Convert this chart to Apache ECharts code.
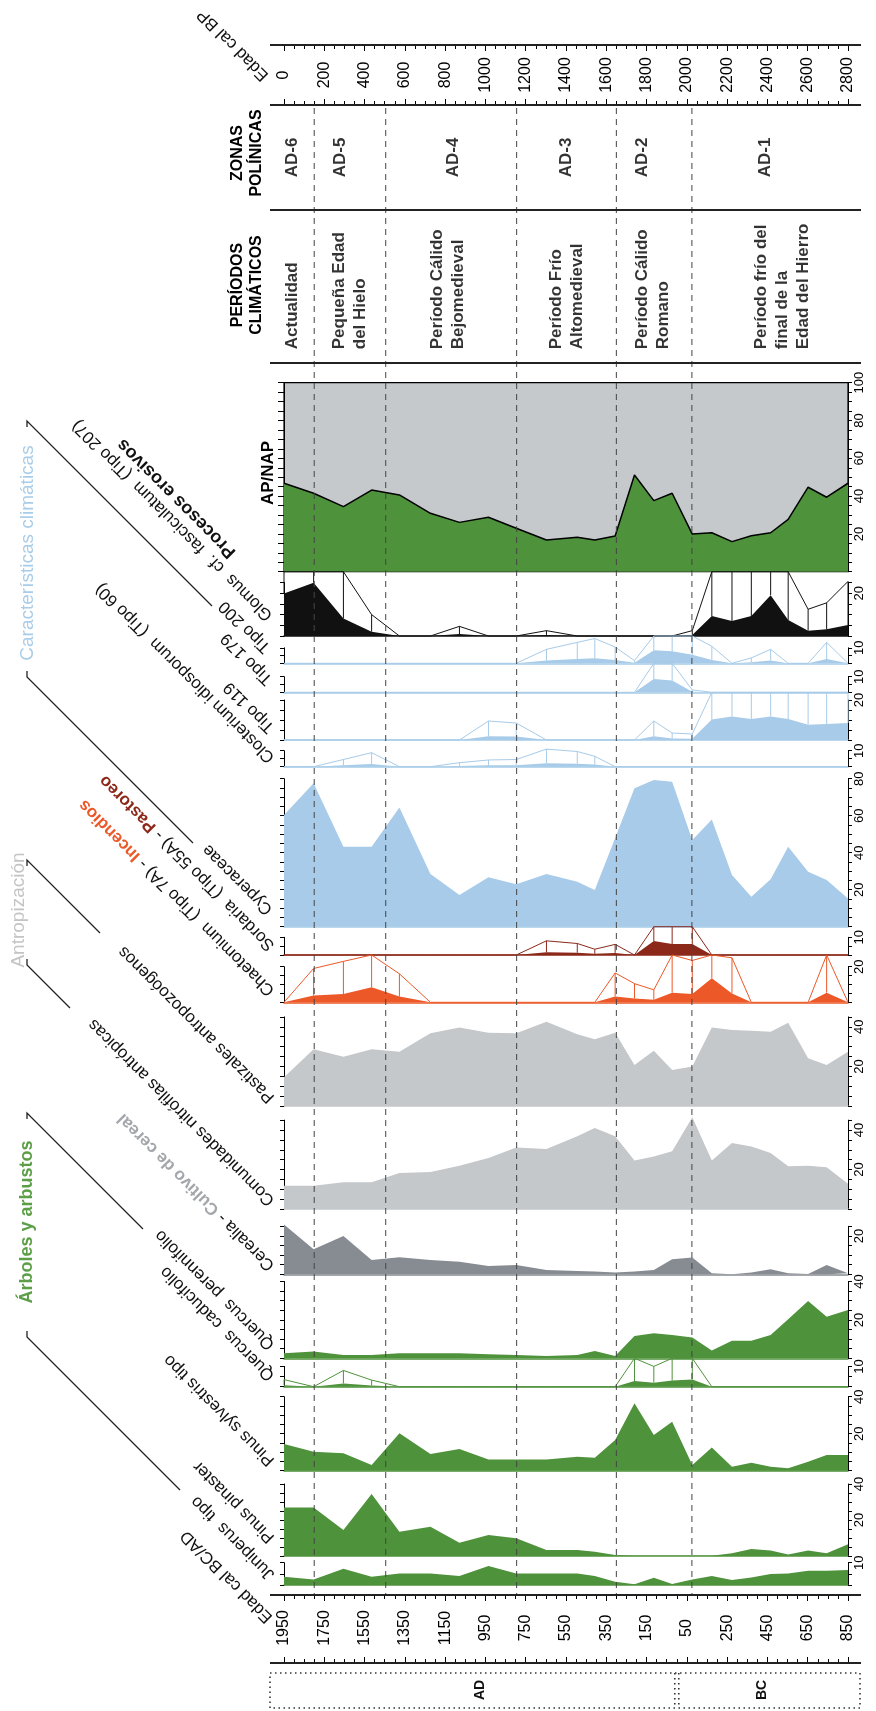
<!DOCTYPE html>
<html><head><meta charset="utf-8">
<script src="https://cdn.jsdelivr.net/npm/echarts@6/dist/echarts.min.js"></script>
<style>html,body{margin:0;padding:0;background:#fff}#c{width:876px;height:1711px}</style>
</head><body><div id="c"></div>
<script>
// ---------------- DATA ----------------
const ages = [0,147,295,435,573,727,871,1015,1153,1303,1456,1543,1644,1740,1836,1927,2027,2124,2224,2320,2416,2503,2602,2694,2800];
const apNap = [46.8,41.5,34.4,43.2,40.6,30.9,26.1,28.8,23.0,16.8,18.2,16.8,18.9,51.2,37.6,41.5,19.9,20.6,15.9,19.0,20.6,27.7,44.7,39.4,46.8];
const glomus = [19.9,24.9,8.2,2.0,0,0,0.9,0,0,0.5,0,0,0,0,0,0,0.5,9.3,7.0,9.3,19.1,7.5,2.5,3.1,5.1];
const tipo200 = [0,0,0,0,0,0,0,0,0,1.8,2.7,3.2,2.1,0.35,8.4,7.7,5.5,2.2,0,0.7,1.8,0,0,2.7,0];
const tipo179 = [0,0,0,0,0,0,0,0,0,0,0,0,0,0,8.5,7.5,0.3,0,0,0,0,0,0,0,0];
const tipo119 = [0,0,0,0,0,0,0,1.9,1.7,0,0,0,0,0,1.9,0.7,0.6,10.2,11.8,10.5,11.8,10.5,7.6,8.0,8.5];
const closterium = [0,0,0.9,1.75,0,0,0.5,0.84,0.9,2.2,1.9,1.3,0,0,0,0,0,0,0,0,0,0,0,0,0];
const cyperaceae = [60.4,77.5,43.2,43.2,64.5,28.5,17.1,26.7,22.9,28.5,24.3,19.8,48,74.8,79.3,78.4,46.8,58,27.9,16.2,25.6,43.2,29.7,25.2,15.3];
const sordaria = [0,0,0,0,0,0,0,0,0,1.6,1.3,0.65,1.2,0,7.9,6.2,6.2,0,0,0,0,0,0,0,0];
const chaetomium = [0,3.8,4.6,8.5,3.2,0,0,0,0,0,0,0,3.3,2.1,1.4,5.4,4.7,13.5,5.0,0,0,0,0,5.4,0];
const pastizales = [14.5,28.6,24.9,28.6,27.4,36.7,39.6,37.0,36.7,42.6,36.2,33.7,37.0,20.7,27.9,18.2,19.9,39.6,38.4,38.0,37.5,42.1,24.1,20.7,27.4];
const comunidades = [11.8,11.8,13.5,13.5,18.2,18.7,21.9,25.8,31.2,30.4,36.8,41.0,36.8,24.5,26.6,29.2,46.5,24.5,33.4,31.7,28.3,21.6,21.9,21.1,12.8];
const cerealia = [26,13,20,7.5,8.9,7.5,6.6,4.3,4.9,2.3,1.7,1.4,0.9,1.4,2.3,7.8,8.7,0.5,0,0.9,2.6,0.5,0.2,4.9,0.5];
const quercusPer = [2.6,3.5,1.7,1.7,2.6,2.6,2.6,2.1,1.7,1.2,1.7,3.8,1.2,11.6,13.0,12.2,10.8,4.0,9.2,9.2,12.2,20.3,29.9,21.7,25.2];
const quercusCad = [0.7,0,1.6,0.65,0,0,0,0,0,0,0,0,0,2.8,2.0,3.0,3.6,0,0,0,0,0,0,0,0];
const pinusSylv = [14.4,10.3,9.4,3.1,20.2,9.0,11.7,6.1,6.1,6.1,7.6,7.0,16.6,36.4,19.3,26.5,3.1,12.6,2.2,4.3,2.2,1.3,4.9,8.5,8.5];
const pinusPin = [26.9,26.9,14.4,34.4,13.5,16.3,7.4,11.7,9.8,3.3,3.3,2.4,0.6,0.2,0.2,0.2,0.2,0.2,1.5,3.9,3.0,0.9,3.0,1.5,6.5];
const juniperus = [3.7,2.5,7.3,3.7,5.2,5.2,4.0,8.5,5.2,5.2,5.2,4.0,1.5,0.3,3.3,0.4,2.5,4.0,2.2,3.4,4.9,5.2,6.4,6.4,6.7];

const zoneBounds = [150,505,1155,1650,2025];
const zoneNames = ['AD-6','AD-5','AD-4','AD-3','AD-2','AD-1'];
const zoneLabelAt = [40,280,840,1400,1780,2390];
const periodNames = ['Actualidad','Pequeña Edad\ndel Hielo','Período Cálido\nBejomedieval','Período Frío\nAltomedieval','Período Cálido\nRomano','Período frío del\nfinal de la\nEdad del Hierro'];
const periodLabelAt = [40,328,812,1405,1832,2473];
const bpTickLabels = ['0','200','400','600','800','1000','1200','1400','1600','1800','2000','2200','2400','2600','2800'];
const adTickLabels = ['1950','1750','1550','1350','1150','950','750','550','350','150','50','250','450','650','850'];
const eraNames = ['AD','BC'];
const eraBoundaryBP = 1950;

// ---------------- STYLE / LAYOUT ----------------
const FONT = '"Liberation Sans", Arial, Helvetica, sans-serif';
const GREEN='#4f923c', BLUE='#a7cbe8', GRAY='#c4c8cb', DGRAY='#878c92', ORANGE='#ec5828', DRED='#8c2819', BLACK='#111111';
const L = 284, R = 28;

const strips = [
 {data: apNap, bottom: 571.7, pxpp: 1.89, tickMax: 100, labels:[20,40,60,80,100], color: GREEN, apnap: true},
 {data: glomus, bottom: 636, pxpp: 2.14, tickMax: 25, labels:[20], color: BLACK, exag: 5},
 {data: tipo200, bottom: 663.3, pxpp: 1.55, tickMax: 10, labels:[10], color: BLUE, exag: 5},
 {data: tipo179, bottom: 692.3, pxpp: 1.56, tickMax: 10, labels:[10], color: BLUE, exag: 5},
 {data: tipo119, bottom: 740, pxpp: 2.0, tickMax: 20, labels:[20], color: BLUE, exag: 5},
 {data: closterium, bottom: 766.7, pxpp: 1.6, tickMax: 10, labels:[10], color: BLUE, exag: 5},
 {data: cyperaceae, bottom: 926.7, pxpp: 1.85, tickMax: 80, labels:[20,40,60,80], color: BLUE},
 {data: sordaria, bottom: 955, pxpp: 1.77, tickMax: 10, labels:[10], color: DRED, exag: 5},
 {data: chaetomium, bottom: 1002.3, pxpp: 1.78, tickMax: 20, labels:[20], color: ORANGE, exag: 5},
 {data: pastizales, bottom: 1106, pxpp: 1.98, tickMax: 45, labels:[20,40], color: GRAY},
 {data: comunidades, bottom: 1209, pxpp: 1.975, tickMax: 45, labels:[20,40], color: GRAY},
 {data: cerealia, bottom: 1274.3, pxpp: 1.92, tickMax: 25, labels:[20], color: DGRAY},
 {data: quercusPer, bottom: 1358.3, pxpp: 1.92, tickMax: 40, labels:[20,40], color: GREEN},
 {data: quercusCad, bottom: 1386.7, pxpp: 2.03, tickMax: 10, labels:[10], color: GREEN, exag: 5},
 {data: pinusSylv, bottom: 1470.7, pxpp: 1.85, tickMax: 40, labels:[20,40], color: GREEN},
 {data: pinusPin, bottom: 1556, pxpp: 1.8, tickMax: 40, labels:[20,40], color: GREEN},
 {data: juniperus, bottom: 1585, pxpp: 2.23, tickMax: 10, labels:[10], color: GREEN}
];

const grid=[], xAxis=[], yAxis=[], series=[];
strips.forEach((s,i)=>{
  const h = s.tickMax*s.pxpp;
  grid.push({left:L, right:R, top: s.bottom - h, height: h, show: !!s.apnap,
    backgroundColor: s.apnap ? '#c5c9cc' : 'transparent', borderColor:'#000', borderWidth: s.apnap?1.2:0});
  xAxis.push({gridIndex:i, type:'value', min:0, max:2800, axisLine:{show: !s.apnap, onZero:false, lineStyle:{color: s.color, width: 1.5}},
    axisTick:{show:false}, axisLabel:{show:false}, splitLine:{show:false}});
  const base = {gridIndex:i, type:'value', min:0, max:s.tickMax, interval:5, splitLine:{show:false},
    axisLine:{show:true, onZero:false, lineStyle:{color:'#000', width:1}},
    axisTick:{show:true, inside:false, length:4, lineStyle:{color:'#000'}}};
  yAxis.push(Object.assign({}, base, {position:'right', axisLabel:{show:true, rotate:90, fontSize:13, color:'#000', margin:5, fontFamily:FONT,
    formatter: v => s.labels.includes(v) ? String(v) : ''}}));
  yAxis.push(Object.assign({}, base, {position:'left', axisLabel:{show:false},
    axisTick: s.apnap ? {show:true, inside:false, length:6, lineStyle:{color:'#000'}} : base.axisTick}));
  series.push({type:'line', xAxisIndex:i, yAxisIndex:2*i, data: ages.map((a,k)=>[a, s.data[k]]), symbol:'none', clip:false, silent:true, z:2,
    lineStyle: s.apnap ? {color:'#000', width:1.5} : {width:0, opacity:0}, areaStyle:{color:s.color, opacity:1}});
  if (s.exag) {
    const cap = (s.bottom - strips[i-1].bottom)/s.pxpp;
    const ex = ages.map((a,k)=>[a, s.data[k], Math.min(s.data[k]*s.exag, cap)]);
    series.push({type:'line', xAxisIndex:i, yAxisIndex:2*i, data: ex.map(d=>[d[0], d[2]]), symbol:'none', clip:false, silent:true, z:3,
      lineStyle:{color:s.color, width:1}});
    series.push({type:'custom', xAxisIndex:i, yAxisIndex:2*i, data: ex, clip:false, silent:true, z:3,
      encode:{x:0, y:1},
      renderItem:(params, api)=>{
        const a = api.value(0), v = api.value(1), e = api.value(2);
        if (e - v < 0.05) return null;
        const p1 = api.coord([a, v]), p2 = api.coord([a, e]);
        return {type:'line', shape:{x1:p1[0], y1:p1[1], x2:p2[0], y2:p2[1]}, style:{stroke:s.color, lineWidth:1}};
      }});
  }
});

// overlay grid for zone boundary dashed lines
const gOv = grid.length;
grid.push({left:L, right:R, top:108, height:1595-108});
xAxis.push({gridIndex:gOv, type:'value', min:0, max:2800, show:false});
yAxis.push({gridIndex:gOv, type:'value', min:0, max:1, show:false});
series.push({type:'custom', xAxisIndex:xAxis.length-1, yAxisIndex:yAxis.length-1, z:20, silent:true,
  data: zoneBounds.map(b=>[b,0]),
  renderItem:(params, api)=>{
    const x = api.coord([api.value(0),0])[0]; const cs = params.coordSys;
    return {type:'line', shape:{x1:x, y1:cs.y, x2:x, y2:cs.y+cs.height}, style:{stroke:'#444', lineWidth:1, lineDash:[6,5]}};
  }});

// header BP axis grid
function tickAxis(gi, pos, labels, margin){
  return {gridIndex:gi, type:'value', position:pos, min:0, max:2800, interval:200,
    axisLine:{show:false}, splitLine:{show:false},
    axisTick:{show:true, inside:true, length:6, lineStyle:{color:'#000', width:1}},
    minorTick:{show:true, splitNumber:4, length:4, lineStyle:{color:'#000', width:1}},
    axisLabel: labels ? {show:true, inside:true, rotate:90, margin:margin, align:'center', verticalAlign:'middle',
      fontSize:16, fontFamily:FONT, color:'#000', formatter: v => labels[Math.round(v/200)]} : {show:false}};
}
const gBP = grid.length;
grid.push({left:L, right:R, top:45, height:60});
xAxis.push(tickAxis(gBP, 'bottom', bpTickLabels, 30));
xAxis.push(tickAxis(gBP, 'top', null, 0));
yAxis.push({gridIndex:gBP, type:'value', min:0, max:1, show:false});

// zones grid
const gZ = grid.length;
grid.push({left:L, right:R, top:105, height:105});
xAxis.push({gridIndex:gZ, type:'value', min:0, max:2800, show:false});
yAxis.push({gridIndex:gZ, type:'value', min:0, max:1, show:false});
series.push({type:'scatter', xAxisIndex:xAxis.length-1, yAxisIndex:yAxis.length-1, symbolSize:1, itemStyle:{color:'rgba(0,0,0,0)'}, silent:true,
  data: zoneLabelAt.map((b,k)=>({value:[b,0.5], name:zoneNames[k]})),
  label:{show:true, position:'inside', formatter:'{b}', rotate:90, align:'center', verticalAlign:'middle', fontSize:17, fontWeight:'bold', color:'#000', fontFamily:FONT}});

// periods grid
const gP = grid.length;
grid.push({left:L, right:R, top:210, height:153});
xAxis.push({gridIndex:gP, type:'value', min:0, max:2800, show:false});
yAxis.push({gridIndex:gP, type:'value', min:0, max:1, show:false});
series.push({type:'scatter', xAxisIndex:xAxis.length-1, yAxisIndex:yAxis.length-1, symbolSize:1, itemStyle:{color:'rgba(0,0,0,0)'}, silent:true,
  data: periodLabelAt.map((b,k)=>({value:[b,0.09], name:periodNames[k]})),
  label:{show:true, position:'inside', formatter:'{b}', rotate:90, align:'left', verticalAlign:'middle', fontSize:17, lineHeight:21, fontWeight:'bold', color:'#000', fontFamily:FONT}});

// bottom AD/BC axis grid
const gAD = grid.length;
grid.push({left:L, right:R, top:1595, height:68});
xAxis.push(tickAxis(gAD, 'bottom', adTickLabels, 35));
xAxis.push(tickAxis(gAD, 'top', null, 0));
yAxis.push({gridIndex:gAD, type:'value', min:0, max:1, show:false});

// ---------------- GRAPHICS (text & decoration) ----------------
const g = [];
function hline(y, x1, x2, w){ g.push({type:'line', shape:{x1:x1, y1:y, x2:x2, y2:y}, style:{stroke:'#222', lineWidth:w||1.5}, z:50}); }
[45,105,210,363,1595,1663].forEach(y=>hline(y,270,861,1.8));
function poly(pts, color){ g.push({type:'polyline', shape:{points:pts}, style:{stroke:color||'#222', lineWidth:1.3, fill:null}, z:50}); }
poly([[27,427],[27,421],[212,606]]);
poly([[27,671],[27,677],[193,843]]);
poly([[27,866],[27,860],[100,933]]);
poly([[27,959],[27,965],[70,1008]]);
poly([[27,1119],[27,1113],[143,1229]]);
poly([[27,1331],[27,1337],[180,1490]]);

function vtext(text, x, y, size, color, weight, lh){
  g.push({type:'text', x:x, y:y, rotation:Math.PI/2, z:50,
    style:{text:text, fill:color||'#000', font:(weight||'normal')+' '+size+'px '+FONT, align:'center', verticalAlign:'middle', lineHeight:lh||size+2}});
}
vtext('ZONAS\nPOLÍNICAS', 247, 153, 16, '#000', 'bold', 19);
vtext('PERÍODOS\nCLIMÁTICOS', 247, 285, 16, '#000', 'bold', 19);
vtext('AP/NAP', 268, 473, 17, '#000', 'bold');
vtext('Características climáticas', 28, 553, 19, '#a9cde9');
vtext('Antropización', 19, 910, 19, '#c4c4c4');
vtext('Árboles y arbustos', 27, 1222, 18, '#5d9f48', 'bold');

const ROT = 3*Math.PI/4;
function dtext(text, x, y, rich){
  const el = {type:'text', x:x, y:y, rotation:ROT, z:50,
    style:{text:text, fill:'#111', font:'17px '+FONT, align:'left', verticalAlign:'middle'}};
  if (rich) el.style.rich = rich;
  g.push(el);
}
const baseRich = {fill:'#111', fontSize:17, fontFamily:FONT};
dtext('Edad cal BP', 266, 78);
dtext('Glomus  cf.  fasciculatum  (Tipo 207)', 270, 618);
g.push({type:'text', x:233, y:555, rotation:ROT, z:50, style:{text:'Procesos erosivos', fill:'#111', font:'bold 18px '+FONT, align:'left', verticalAlign:'middle'}});
dtext('Tipo 200', 268, 650);
dtext('Tipo 179', 270, 682);
dtext('Tipo 119', 272, 730);
dtext('Closterium idiosporum  (Tipo 60)', 272, 760);
dtext('Cyperaceae', 270, 912);
dtext('{a|Sordaria  (Tipo 55A) - }{b|Pastoreo}', 272, 948, {a: baseRich, b:{fill:DRED, fontSize:17, fontWeight:'bold', fontFamily:FONT}});
dtext('{a|Chaetomium  (Tipo 7A) - }{b|Incendios}', 272, 993, {a: baseRich, b:{fill:ORANGE, fontSize:17, fontWeight:'bold', fontFamily:FONT}});
dtext('Pastizales antropozoógenos', 272, 1100);
dtext('Comunidades nitrófilas antrópicas', 272, 1203);
dtext('{a|Cerealia - }{b|Cultivo de cereal}', 272, 1268, {a: baseRich, b:{fill:'#a3a7ab', fontSize:17, fontWeight:'bold', fontFamily:FONT}});
dtext('Quercus  perennifolio', 272, 1347);
dtext('Quercus  caducifolio', 272, 1378);
dtext('Pinus sylvestris tipo', 272, 1463);
dtext('Pinus pinaster', 272, 1540);
dtext('Juniperus  tipo', 272, 1577);
dtext('Edad cal BC/AD', 270, 1620);

const chart = echarts.init(document.getElementById('c'), null, {renderer:'canvas', width:876, height:1711});
chart.setOption({animation:false, backgroundColor:'#fff', grid, xAxis, yAxis, series, graphic: g});

// AD/BC dotted box, divider at era boundary via axis scale
const xEra = chart.convertToPixel({xAxisIndex:0}, eraBoundaryBP);
const x0 = chart.convertToPixel({xAxisIndex:0}, 0), x1 = chart.convertToPixel({xAxisIndex:0}, 2800);
const dot = {stroke:'#333', lineWidth:1.6, lineDash:[1.5,3.5], fill:null};
g.push({type:'rect', shape:{x:270, y:1673, width:590, height:35}, style:dot, z:50});
g.push({type:'line', shape:{x1:xEra-2, y1:1673, x2:xEra-2, y2:1708}, style:dot, z:50});
g.push({type:'line', shape:{x1:xEra+2, y1:1673, x2:xEra+2, y2:1708}, style:dot, z:50});
g.push({type:'text', x:(x0+xEra)/2, y:1690, rotation:Math.PI/2, z:50, style:{text:eraNames[0], fill:'#111', font:'bold 14px '+FONT, align:'center', verticalAlign:'middle'}});
g.push({type:'text', x:(xEra+x1)/2, y:1690, rotation:Math.PI/2, z:50, style:{text:eraNames[1], fill:'#111', font:'bold 14px '+FONT, align:'center', verticalAlign:'middle'}});
chart.setOption({graphic: g});
</script></body></html>
